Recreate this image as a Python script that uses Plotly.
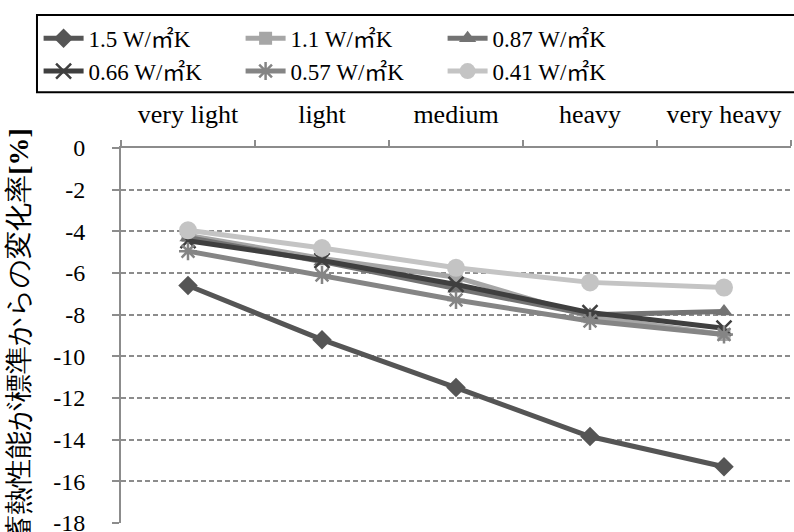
import plotly.graph_objects as go

M2 = "<span style=\"font-family:'Noto Sans CJK JP'\">㎡</span>"
categories = ["very light", "light", "medium", "heavy", "very heavy"]
series_names = ["1.5 W/" + M2 + "K", "1.1 W/" + M2 + "K", "0.87 W/" + M2 + "K",
                "0.66 W/" + M2 + "K", "0.57 W/" + M2 + "K", "0.41 W/" + M2 + "K"]
v_15 = [-6.6, -9.2, -11.5, -13.85, -15.3]
v_11 = [-4.2, -5.3, -6.2, -8.1, -8.95]
v_087 = [-4.3, -5.45, -6.75, -8.0, -7.85]
v_066 = [-4.45, -5.4, -6.55, -7.9, -8.65]
v_057 = [-4.95, -6.1, -7.3, -8.3, -8.95]
v_041 = [-3.95, -4.8, -5.75, -6.45, -6.7]
y_tickvals = [0, -2, -4, -6, -8, -10, -12, -14, -16, -18]
y_ticktext = ["0", "-2", "-4", "-6", "-8", "-10", "-12", "-14", "-16", "-18"]

values = [v_15, v_11, v_087, v_066, v_057, v_041]
colors = ["#555555", "#a6a6a6", "#737373", "#3f3f3f", "#858585", "#c4c4c4"]
symbols = ["diamond", "square", "triangle-up", "x-thin-open", "asterisk-open", "circle"]
sizes = [15, 13, 15, 15, 15, 18]

FONT = "Liberation Serif"

fig = go.Figure()
for name, vals, c, s, sz in zip(series_names, values, colors, symbols, sizes):
    marker = dict(symbol=s, size=sz, color=c)
    if s.endswith("-open"):
        marker["line"] = dict(color=c, width=2.5)
    fig.add_trace(go.Scatter(
        x=categories, y=vals, name=name, mode="lines+markers",
        line=dict(color=c, width=5), marker=marker,
    ))

# legend frame (extends past the right edge, as in the reference)
fig.add_shape(type="rect", xref="paper", yref="paper",
              x0=-0.1254, x1=1.03, y0=1.149, y1=1.3547,
              line=dict(color="black", width=2), fillcolor="rgba(0,0,0,0)", layer="above")

fig.update_layout(
    width=794, height=532,
    margin=dict(l=121, r=3, t=148, b=9),
    paper_bgcolor="white", plot_bgcolor="white",
    font=dict(family=FONT, size=22, color="black"),
    showlegend=True,
    legend=dict(
        orientation="h", x=-0.123, xanchor="left", y=1.35, yanchor="top",
        borderwidth=0, bgcolor="rgba(0,0,0,0)",
        font=dict(family=FONT, size=23, color="black"),
        entrywidth=147, itemwidth=40, tracegroupgap=0,
    ),
    xaxis=dict(
        side="top", type="category", range=[-0.5, 4.5],
        showline=True, linecolor="#8c8c8c", linewidth=2,
        ticks="outside", tickson="boundaries", ticklen=6, tickcolor="#8c8c8c", tickwidth=2,
        showgrid=False, zeroline=False, ticklabelstandoff=13, automargin=False,
        tickfont=dict(family=FONT, size=26, color="black"),
    ),
    yaxis=dict(
        range=[-18, 0], tickvals=y_tickvals, ticktext=y_ticktext,
        showline=True, linecolor="#8c8c8c", linewidth=2,
        ticks="outside", ticklen=7, tickcolor="#8c8c8c", tickwidth=2,
        showgrid=True, gridcolor="#8c8c8c", gridwidth=2, griddash="5px,3px",
        zeroline=False, ticklabelstandoff=22, ticklabeloverflow="allow", automargin=False,
        tickfont=dict(family=FONT, size=24, color="black"),
        title=dict(text="蓄熱性能が標準からの変化率<b>[%]</b>", standoff=16,
                   font=dict(family=FONT, size=28, color="black")),
    ),
)

fig.write_html("out.html")
